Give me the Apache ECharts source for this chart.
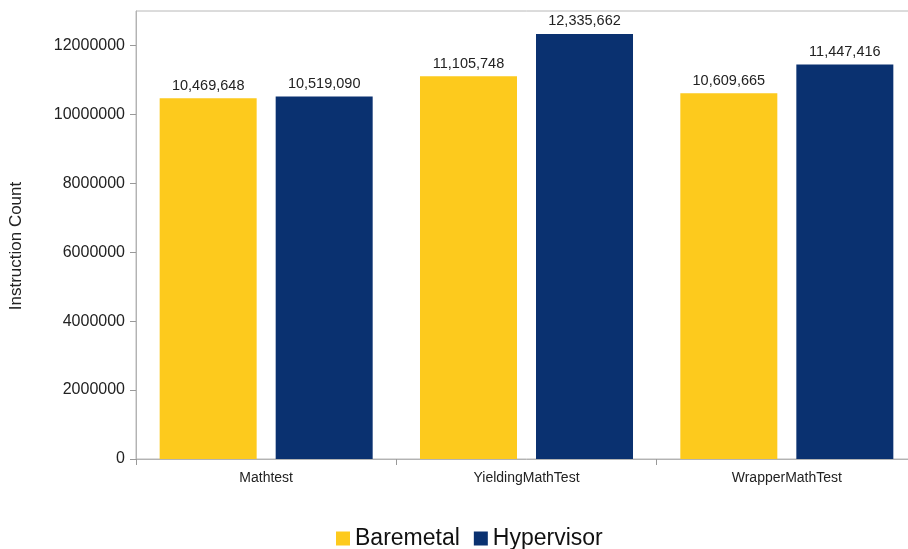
<!DOCTYPE html>
<html>
<head>
<meta charset="utf-8">
<script src="https://cdn.jsdelivr.net/npm/echarts@6/dist/echarts.min.js"></script>
<style>
  html, body { margin: 0; padding: 0; background: #fff; overflow: hidden; }
  #chart { width: 918px; height: 549px; }
</style>
</head>
<body>
<div id="chart"></div>
<script>
// Instruction counts per test, bare metal vs. under the hypervisor
const categories = ['Mathtest', 'YieldingMathTest', 'WrapperMathTest'];
const baremetal = [10469648, 11105748, 10609665];
const hypervisor = [10519090, 12335662, 11447416];
const yTickValues = [0, 2000000, 4000000, 6000000, 8000000, 10000000, 12000000];
const yMax = 13000000;

const fmt = v => v.toLocaleString('en-US');
const font = 'Liberation Sans, Arial, Helvetica, sans-serif';

const chart = echarts.init(document.getElementById('chart'), null, { renderer: 'canvas' });
chart.setOption({
  animation: false,
  backgroundColor: '#ffffff',
  textStyle: { fontFamily: font },
  grid: {
    left: 134, top: 11, right: 1, height: 448,
    show: true, borderColor: '#b8b8b8', borderWidth: 1
  },
  legend: {
    top: 522, left: 331,
    itemWidth: 14, itemHeight: 14, itemGap: 14,
    icon: 'rect',
    textStyle: { fontSize: 23, color: '#111', fontFamily: font, padding: [0, 0, 0, 0] },
    data: ['Baremetal', 'Hypervisor']
  },
  xAxis: {
    type: 'category',
    data: categories,
    axisLine: { lineStyle: { color: '#b3b3b3' } },
    axisTick: { show: true, length: 6, lineStyle: { color: '#999' } },
    axisLabel: { color: '#222', fontSize: 14, margin: 12 }
  },
  yAxis: {
    type: 'value',
    min: 0, max: yMax,
    name: 'Instruction Count',
    nameLocation: 'middle',
    nameGap: 111,
    nameTextStyle: { color: '#222', fontSize: 17, padding: [0, 22, 0, 0] },
    axisLine: { show: true, lineStyle: { color: '#b3b3b3' } },
    axisTick: { show: true, length: 6, customValues: yTickValues, lineStyle: { color: '#999' } },
    splitLine: { show: false },
    axisLabel: {
      color: '#222', fontSize: 16, margin: 11,
      customValues: yTickValues,
      formatter: v => String(v)
    }
  },
  series: [
    {
      name: 'Baremetal', type: 'bar', data: baremetal,
      barWidth: 97, barGap: '19.6%',
      itemStyle: { color: '#fdca1d' },
      label: { show: true, position: 'top', distance: 5, color: '#222', fontSize: 14.5, formatter: p => fmt(p.value) }
    },
    {
      name: 'Hypervisor', type: 'bar', data: hypervisor,
      barWidth: 97, barGap: '19.6%',
      itemStyle: { color: '#0a3170' },
      label: { show: true, position: 'top', distance: 5, color: '#222', fontSize: 14.5, formatter: p => fmt(p.value) }
    }
  ]
});
</script>
</body>
</html>
